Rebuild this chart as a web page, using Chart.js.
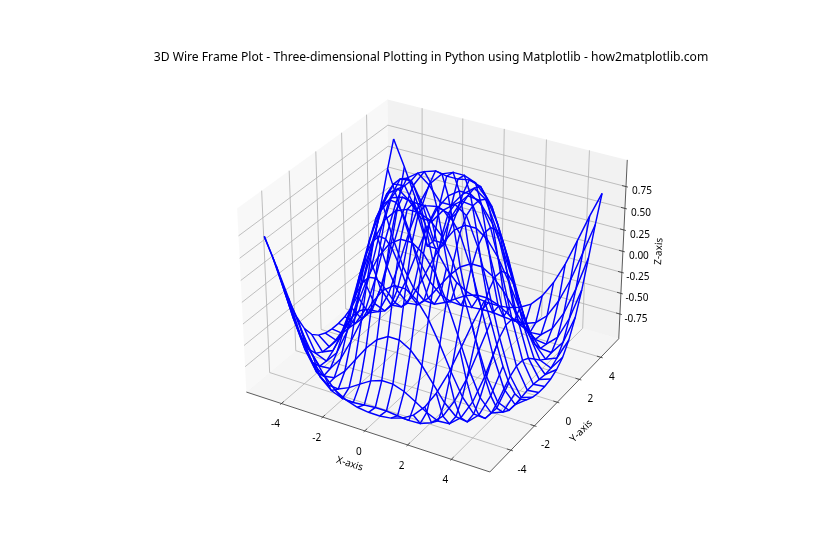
<!DOCTYPE html>
<html>
<head>
<meta charset="utf-8">
<style>
  html, body { margin: 0; padding: 0; background: #fff; }
  #wrap { width: 840px; height: 560px; }
</style>
<script src="https://cdn.jsdelivr.net/npm/chart.js@4"></script>
</head>
<body>
<div id="wrap"><canvas id="chart"></canvas></div>
<script>
const chartTitle = '3D Wire Frame Plot - Three-dimensional Plotting in Python using Matplotlib - how2matplotlib.com';
const gridX = [-5, -4.474, -3.947, -3.421, -2.895, -2.368, -1.842, -1.316, -0.789, -0.263, 0.263, 0.789, 1.316, 1.842, 2.368, 2.895, 3.421, 3.947, 4.474, 5];
const gridY = [-5, -4.474, -3.947, -3.421, -2.895, -2.368, -1.842, -1.316, -0.789, -0.263, 0.263, 0.789, 1.316, 1.842, 2.368, 2.895, 3.421, 3.947, 4.474, 5];
const zRows = [
  [0.708, 0.411, 0.087, -0.224, -0.482, -0.682, -0.820, -0.897, -0.940, -0.957, -0.957, -0.940, -0.897, -0.820, -0.682, -0.482, -0.224, 0.087, 0.411, 0.708],
  [0.411, 0.044, -0.315, -0.602, -0.820, -0.940, -0.992, -0.998, -0.986, -0.973, -0.973, -0.986, -0.998, -0.992, -0.940, -0.820, -0.602, -0.315, 0.044, 0.411],
  [0.087, -0.315, -0.644, -0.870, -0.984, -0.994, -0.936, -0.853, -0.773, -0.728, -0.728, -0.773, -0.853, -0.936, -0.994, -0.984, -0.870, -0.644, -0.315, 0.087],
  [-0.224, -0.602, -0.870, -0.992, -0.973, -0.853, -0.677, -0.500, -0.361, -0.285, -0.285, -0.361, -0.500, -0.677, -0.853, -0.973, -0.992, -0.870, -0.602, -0.224],
  [-0.482, -0.820, -0.984, -0.973, -0.815, -0.564, -0.285, -0.038, 0.141, 0.233, 0.233, 0.141, -0.038, -0.285, -0.564, -0.815, -0.973, -0.984, -0.820, -0.482],
  [-0.682, -0.940, -0.994, -0.853, -0.564, -0.206, 0.141, 0.419, 0.600, 0.688, 0.688, 0.600, 0.419, 0.141, -0.206, -0.564, -0.853, -0.994, -0.940, -0.682],
  [-0.820, -0.992, -0.936, -0.677, -0.285, 0.141, 0.511, 0.770, 0.908, 0.958, 0.958, 0.908, 0.770, 0.511, 0.141, -0.285, -0.677, -0.936, -0.992, -0.820],
  [-0.897, -0.998, -0.853, -0.500, -0.038, 0.419, 0.770, 0.958, 0.999, 0.974, 0.974, 0.999, 0.958, 0.770, 0.419, -0.038, -0.500, -0.853, -0.998, -0.897],
  [-0.940, -0.986, -0.773, -0.361, 0.141, 0.600, 0.908, 0.999, 0.899, 0.739, 0.739, 0.899, 0.999, 0.908, 0.600, 0.141, -0.361, -0.773, -0.986, -0.940],
  [-0.957, -0.973, -0.728, -0.285, 0.233, 0.688, 0.958, 0.974, 0.739, 0.364, 0.364, 0.739, 0.974, 0.958, 0.688, 0.233, -0.285, -0.728, -0.973, -0.957],
  [-0.957, -0.973, -0.728, -0.285, 0.233, 0.688, 0.958, 0.974, 0.739, 0.364, 0.364, 0.739, 0.974, 0.958, 0.688, 0.233, -0.285, -0.728, -0.973, -0.957],
  [-0.940, -0.986, -0.773, -0.361, 0.141, 0.600, 0.908, 0.999, 0.899, 0.739, 0.739, 0.899, 0.999, 0.908, 0.600, 0.141, -0.361, -0.773, -0.986, -0.940],
  [-0.897, -0.998, -0.853, -0.500, -0.038, 0.419, 0.770, 0.958, 0.999, 0.974, 0.974, 0.999, 0.958, 0.770, 0.419, -0.038, -0.500, -0.853, -0.998, -0.897],
  [-0.820, -0.992, -0.936, -0.677, -0.285, 0.141, 0.511, 0.770, 0.908, 0.958, 0.958, 0.908, 0.770, 0.511, 0.141, -0.285, -0.677, -0.936, -0.992, -0.820],
  [-0.682, -0.940, -0.994, -0.853, -0.564, -0.206, 0.141, 0.419, 0.600, 0.688, 0.688, 0.600, 0.419, 0.141, -0.206, -0.564, -0.853, -0.994, -0.940, -0.682],
  [-0.482, -0.820, -0.984, -0.973, -0.815, -0.564, -0.285, -0.038, 0.141, 0.233, 0.233, 0.141, -0.038, -0.285, -0.564, -0.815, -0.973, -0.984, -0.820, -0.482],
  [-0.224, -0.602, -0.870, -0.992, -0.973, -0.853, -0.677, -0.500, -0.361, -0.285, -0.285, -0.361, -0.500, -0.677, -0.853, -0.973, -0.992, -0.870, -0.602, -0.224],
  [0.087, -0.315, -0.644, -0.870, -0.984, -0.994, -0.936, -0.853, -0.773, -0.728, -0.728, -0.773, -0.853, -0.936, -0.994, -0.984, -0.870, -0.644, -0.315, 0.087],
  [0.411, 0.044, -0.315, -0.602, -0.820, -0.940, -0.992, -0.998, -0.986, -0.973, -0.973, -0.986, -0.998, -0.992, -0.940, -0.820, -0.602, -0.315, 0.044, 0.411],
  [0.708, 0.411, 0.087, -0.224, -0.482, -0.682, -0.820, -0.897, -0.940, -0.957, -0.957, -0.940, -0.897, -0.820, -0.682, -0.482, -0.224, 0.087, 0.411, 0.708]
];
const xTicks = [-4, -2, 0, 2, 4];
const yTicks = [-4, -2, 0, 2, 4];
const zTicks = [-0.75, -0.5, -0.25, 0, 0.25, 0.5, 0.75];
const zTickLabels = ['-0.75', '-0.50', '-0.25', '0.00', '0.25', '0.50', '0.75'];

// --- view box, same set-up as a default mplot3d axes ---
const xLim = [-5.5, 5.5];
const yLim = [-5.5, 5.5];
const zLim = [-1.01, 1.01];
const elev = 30 * Math.PI / 180;
const azim = -60 * Math.PI / 180;
const dist = 10;
const aspectK = 1.8294640721620434 * 25 / 24 / Math.sqrt(41);
const box = [4 * aspectK, 4 * aspectK, 3 * aspectK];
const dir = [Math.cos(elev) * Math.cos(azim), Math.cos(elev) * Math.sin(azim), Math.sin(elev)];
const eye = box.map((b, i) => b / 2 + dist * dir[i]);

function cross(a, b) {
    return [a[1] * b[2] - a[2] * b[1], a[2] * b[0] - a[0] * b[2], a[0] * b[1] - a[1] * b[0]];
}
function dot(a, b) {
    return a[0] * b[0] + a[1] * b[1] + a[2] * b[2];
}
const uRaw = cross([0, 0, 1], dir);
const uLen = Math.sqrt(dot(uRaw, uRaw));
const uAxis = uRaw.map(v => v / uLen);
const vAxis = cross(dir, uAxis);

function project(x, y, z) {
    const p = [
        (x - xLim[0]) / (xLim[1] - xLim[0]) * box[0] - eye[0],
        (y - yLim[0]) / (yLim[1] - yLim[0]) * box[1] - eye[1],
        (z - zLim[0]) / (zLim[1] - zLim[0]) * box[2] - eye[2]
    ];
    const w = -dot(dir, p);
    return { x: dot(uAxis, p) / w, y: dot(vAxis, p) / w };
}

// panes stick out a bit past the limits
const padX = (xLim[1] - xLim[0]) / 48;
const padY = (yLim[1] - yLim[0]) / 48;
const padZ = (zLim[1] - zLim[0]) / 48;
const x0 = xLim[0] - padX, x1 = xLim[1] + padX;
const y0 = yLim[0] - padY, y1 = yLim[1] + padY;
const z0 = zLim[0] - padZ, z1 = zLim[1] + padZ;
const tickDx = (xLim[1] - xLim[0]) / 12;
const tickDy = (yLim[1] - yLim[0]) / 12;

function lineSet(points, color, width) {
    return { data: points, showLine: true, borderColor: color, borderWidth: width, pointRadius: 0, fill: false, tension: 0 };
}
function paneSet(points, color) {
    return { data: points, showLine: true, borderColor: color, backgroundColor: color, borderWidth: 0, pointRadius: 0, fill: 'shape', tension: 0 };
}

const wires = [];
zRows.forEach((row, i) => {
    wires.push(lineSet(row.map((z, j) => project(gridX[j], gridY[i], z)), '#0000ff', 1.46));
});
gridX.forEach((x, j) => {
    wires.push(lineSet(gridY.map((y, i) => project(x, y, zRows[i][j])), '#0000ff', 1.46));
});

const gridColor = '#b0b0b0';
const gridLines = [];
xTicks.forEach(t => gridLines.push(lineSet([project(t, y0, z0), project(t, y1, z0), project(t, y1, z1)], gridColor, 0.8)));
yTicks.forEach(t => gridLines.push(lineSet([project(x1, t, z0), project(x0, t, z0), project(x0, t, z1)], gridColor, 0.8)));
zTicks.forEach(t => gridLines.push(lineSet([project(x0, y0, t), project(x0, y1, t), project(x1, y1, t)], gridColor, 0.8)));

const axisColor = '#333333';
const axisLines = [
    lineSet([project(x0, y0, z0), project(x1, y0, z0)], axisColor, 0.8),
    lineSet([project(x1, y0, z0), project(x1, y1, z0)], axisColor, 0.8),
    lineSet([project(x1, y1, z0), project(x1, y1, z1)], axisColor, 0.8)
];
xTicks.forEach(t => axisLines.push(lineSet([project(t, y0 - 0.1 * tickDy, z0), project(t, y0 + 0.2 * tickDy, z0)], axisColor, 0.8)));
yTicks.forEach(t => axisLines.push(lineSet([project(x1 + 0.1 * tickDx, t, z0), project(x1 - 0.2 * tickDx, t, z0)], axisColor, 0.8)));
zTicks.forEach(t => axisLines.push(lineSet([project(x1 + 0.1 * tickDx, y1, t), project(x1 - 0.2 * tickDx, y1, t)], axisColor, 0.8)));

const panes = [
    paneSet([project(x0, y0, z0), project(x0, y1, z0), project(x0, y1, z1), project(x0, y0, z1)], 'rgba(242,242,242,0.5)'),
    paneSet([project(x0, y1, z0), project(x1, y1, z0), project(x1, y1, z1), project(x0, y1, z1)], 'rgba(230,230,230,0.5)'),
    paneSet([project(x0, y0, z0), project(x1, y0, z0), project(x1, y1, z0), project(x0, y1, z0)], 'rgba(236,236,236,0.5)')
];

// --- tick and axis text, placed from the chart's own scales ---
const uiFont = '"Noto Sans", "Open Sans", sans-serif';
const axisText = {
    id: 'axisText',
    afterDatasetsDraw(chart) {
        const { ctx, scales } = chart;
        const put = (pt, dx, dy, text, angle) => {
            ctx.save();
            ctx.translate(scales.x.getPixelForValue(pt.x) + dx, scales.y.getPixelForValue(pt.y) + dy);
            ctx.rotate((angle || 0) * Math.PI / 180);
            ctx.fillText(text, 0, 0);
            ctx.restore();
        };
        ctx.save();
        ctx.fillStyle = '#000';
        ctx.font = '10px ' + uiFont;
        ctx.textAlign = 'center';
        ctx.textBaseline = 'middle';
        xTicks.forEach(t => put(project(t, y0, z0), -6, 21, String(t)));
        yTicks.forEach(t => put(project(x1, t, z0), 11, 19.5, String(t)));
        zTicks.forEach((t, i) => put(project(x1, y1, t), 16, 5, zTickLabels[i]));
        put(project(0, y0, z0), -15, 33, 'X-axis', 18);
        put(project(x1, 0, z0), 24, 29, 'Y-axis', -45);
        put(project(x1, y1, 0), 36, 0, 'Z-axis', -87);
        ctx.restore();
    }
};

// the title is squeezed to the plot width, so the plot keeps the full canvas
// and the 2D view range is widened to leave the box at the same place
const unitsPerPx = 0.185 / 416;

new Chart(document.getElementById('chart'), {
    type: 'scatter',
    data: { datasets: [...wires, ...axisLines, ...gridLines, ...panes] },
    options: {
        responsive: true,
        maintainAspectRatio: false,
        animation: false,
        clip: false,
        layout: { padding: { left: 22, right: 0, top: 50, bottom: 70 } },
        scales: {
            x: { type: 'linear', display: false, min: -0.095 - 200.5 * unitsPerPx, max: 0.09 + 201.5 * unitsPerPx },
            y: { type: 'linear', display: false, min: -0.095, max: 0.09 }
        },
        plugins: {
            legend: { display: false },
            tooltip: { enabled: false },
            title: {
                display: true,
                text: chartTitle,
                color: '#000',
                font: { family: uiFont, size: 12.13, weight: 'normal' },
                padding: { top: 0, bottom: 9.44 }
            }
        }
    },
    plugins: [axisText]
});
</script>
</body>
</html>
